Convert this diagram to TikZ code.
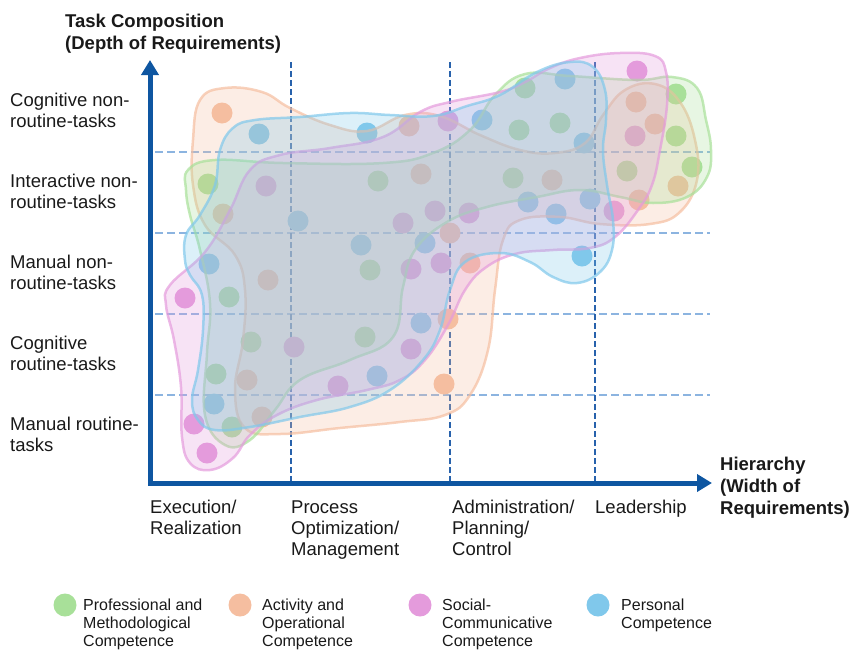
\documentclass[tikz,border=0pt]{standalone}
\usepackage{fontspec}
\setmainfont{Liberation Sans}
\usetikzlibrary{arrows.meta}

\definecolor{axisblue}{RGB}{14,86,161}
\definecolor{gridblue}{RGB}{40,98,172}
\definecolor{rowblue}{RGB}{140,180,224}
\definecolor{profgreen}{RGB}{168,224,153}
\definecolor{actorange}{RGB}{245,190,160}
\definecolor{socpink}{RGB}{228,155,220}
\definecolor{persblue}{RGB}{128,200,235}

\begin{document}
\begin{tikzpicture}[
        x=1pt, y=-1pt,
        every node/.style={inner sep=0pt, text=black!90},
        rowtext/.style={font=\fontsize{18.5}{21}\selectfont, align=left, anchor=base west},
        axistitle/.style={rowtext, font=\fontsize{18.5}{22}\selectfont\bfseries},
        keytext/.style={font=\fontsize{16}{18}\selectfont, align=left, anchor=base west},
        key/.style={circle, fill=#1, minimum size=23pt},
        axisline/.style={draw=axisblue, line width=5pt,
            {Triangle[width=17pt,length=15pt]}-{Triangle[width=17pt,length=15pt]}},
        colline/.style={draw=gridblue, line width=1.8pt, dash pattern=on 6pt off 3pt},
        rowline/.style={draw=rowblue, line width=1.8pt, dash pattern=on 8pt off 4pt},
        blob/.style={draw=#1, fill=#1, fill opacity=0.28, draw opacity=0.7,
            line width=2.5pt, smooth cycle, tension=0.7}
    ]
        \useasboundingbox (0,0) rectangle (851,651);

        % axes
        \coordinate (origin) at (150,483);
        \coordinate (ytop) at (150,60);
        \coordinate (xend) at (712,483);

        % grid
        \coordinate (rowA) at (155,152);
        \coordinate (rowB) at (155,233);
        \coordinate (rowC) at (155,314);
        \coordinate (rowD) at (155,395);
        \draw[rowline] (rowA) -- ++(555,0);
        \draw[rowline] (rowB) -- ++(555,0);
        \draw[rowline] (rowC) -- ++(555,0);
        \draw[rowline] (rowD) -- ++(555,0);

        \coordinate (colA) at (291,62);
        \coordinate (colB) at (450,62);
        \coordinate (colC) at (595,62);
        \draw[colline] (colA) -- (colA |- origin);
        \draw[colline] (colB) -- (colB |- origin);
        \draw[colline] (colC) -- (colC |- origin);

        % competence dots
        \foreach \p in {(525,88),(519,130),(560,123),(676,94),(676,136),(692,167),(627,171),(513,178),
                (378,181),(208,184),(370,270),(229,297),(251,342),(365,337),(216,374),(232,427)}
            \fill[profgreen] \p circle (10.5pt);
        \foreach \p in {(222,113),(409,126),(636,102),(655,124),(421,174),(552,180),(678,186),(639,200),
                (223,214),(450,233),(470,263),(268,280),(448,319),(247,380),(444,384),(262,417)}
            \fill[actorange] \p circle (10.5pt);
        \foreach \p in {(448,121),(637,71),(635,136),(266,186),(403,223),(435,211),(469,213),(614,211),
                (411,269),(441,263),(185,298),(294,347),(411,349),(338,386),(194,424),(207,453)}
            \fill[socpink] \p circle (10.5pt);
        \foreach \p in {(259,134),(367,133),(482,120),(565,79),(584,143),(298,221),(528,202),(556,214),
                (590,199),(361,245),(425,243),(582,256),(209,264),(421,323),(377,376),(214,404)}
            \fill[persblue] \p circle (10.5pt);

        % competence areas
        \draw[blob=actorange] plot coordinates {(200,100) (225,88) (262,92) (290,108) (330,125)
            (367,131) (405,115) (440,116) (480,135) (520,150) (555,153) (585,143) (603,115)
            (625,90) (655,84) (680,102) (695,140) (697,180) (680,212) (650,224) (600,224)
            (560,217) (520,220) (503,240) (495,290) (488,350) (470,395) (445,415) (400,422)
            (340,428) (280,434) (245,428) (235,390) (243,340) (245,290) (235,255) (205,225)
            (193,185) (193,140)};
        \draw[blob=profgreen] plot coordinates {(188,170) (215,160) (283,163) (383,163) (433,153)
            (470,130) (495,95) (525,74) (570,76) (637,80) (672,77) (697,88) (706,120) (711,150)
            (707,177) (687,197) (653,203) (620,197) (580,190) (537,197) (487,207) (447,222)
            (415,250) (403,287) (393,337) (350,360) (300,380) (275,410) (250,440) (225,445)
            (205,415) (207,353) (210,303) (200,250) (190,215) (186,190)};
        \draw[blob=socpink] plot coordinates {(170,285) (205,252) (230,210) (250,170) (280,155)
            (330,148) (383,137) (420,112) (450,102) (500,92) (525,82) (550,68) (580,58)
            (620,53) (655,56) (666,72) (667,105) (660,150) (652,185) (638,210) (615,237)
            (590,248) (553,250) (515,254) (485,268) (465,290) (448,325) (425,360) (400,380)
            (367,390) (317,400) (277,415) (250,435) (233,458) (210,470) (190,463) (182,437)
            (181,387) (174,340) (166,305)};
        \draw[blob=persblue] plot coordinates {(185,260) (186,235) (200,215) (215,185) (220,150)
            (233,128) (255,120) (300,117) (350,113) (390,115) (433,116) (467,106) (500,95)
            (537,72) (570,62) (593,67) (605,90) (606,120) (603,150) (607,185) (613,220)
            (612,250) (600,272) (577,283) (553,277) (530,262) (500,253) (465,262) (450,290)
            (440,330) (423,360) (390,390) (350,407) (300,417) (250,427) (215,430) (198,420)
            (192,400) (198,370) (203,330) (202,295) (190,275)};

        \draw[axisline] (ytop) -- (origin) -- (xend);

        % axis titles (positioned at the last baseline)
        \node[axistitle] (ytitle) at (65,49) {Task Composition\\(Depth of Requirements)};
        \node[axistitle] (xtitle) at (720,514) {Hierarchy\\(Width of\\Requirements)};

        % task rows
        \node[rowtext] (cognr) at (10,127) {Cognitive non-\\routine-tasks};
        \node[rowtext] (internr) at (10,208) {Interactive non-\\routine-tasks};
        \node[rowtext] (mannr) at (10,289) {Manual non-\\routine-tasks};
        \node[rowtext] (cogr) at (10,370) {Cognitive\\routine-tasks};
        \node[rowtext] (manr) at (10,451) {Manual routine-\\tasks};

        % hierarchy levels
        \node[rowtext] (execution) at (150,534) {Execution/\\Realization};
        \node[rowtext] (process) at (291,555) {Process\\Optimization/\\Management};
        \node[rowtext] (admin) at (452,555) {Administration/\\Planning/\\Control};
        \node[rowtext] (leadership) at (595,513) {Leadership};

        % legend
        \node[key=profgreen] (keyprof) at (65,605) {};
        \node[keytext] (txtprof) at (83,646) {Professional and\\Methodological\\Competence};
        \node[key=actorange] (keyact) at (240,605) {};
        \node[keytext] (txtact) at (262,646) {Activity and\\Operational\\Competence};
        \node[key=socpink] (keysoc) at (420,605) {};
        \node[keytext] (txtsoc) at (442,646) {Social-\\Communicative\\Competence};
        \node[key=persblue] (keypers) at (598,605) {};
        \node[keytext] (txtpers) at (621,628) {Personal\\Competence};
    \end{tikzpicture}
\end{document}
